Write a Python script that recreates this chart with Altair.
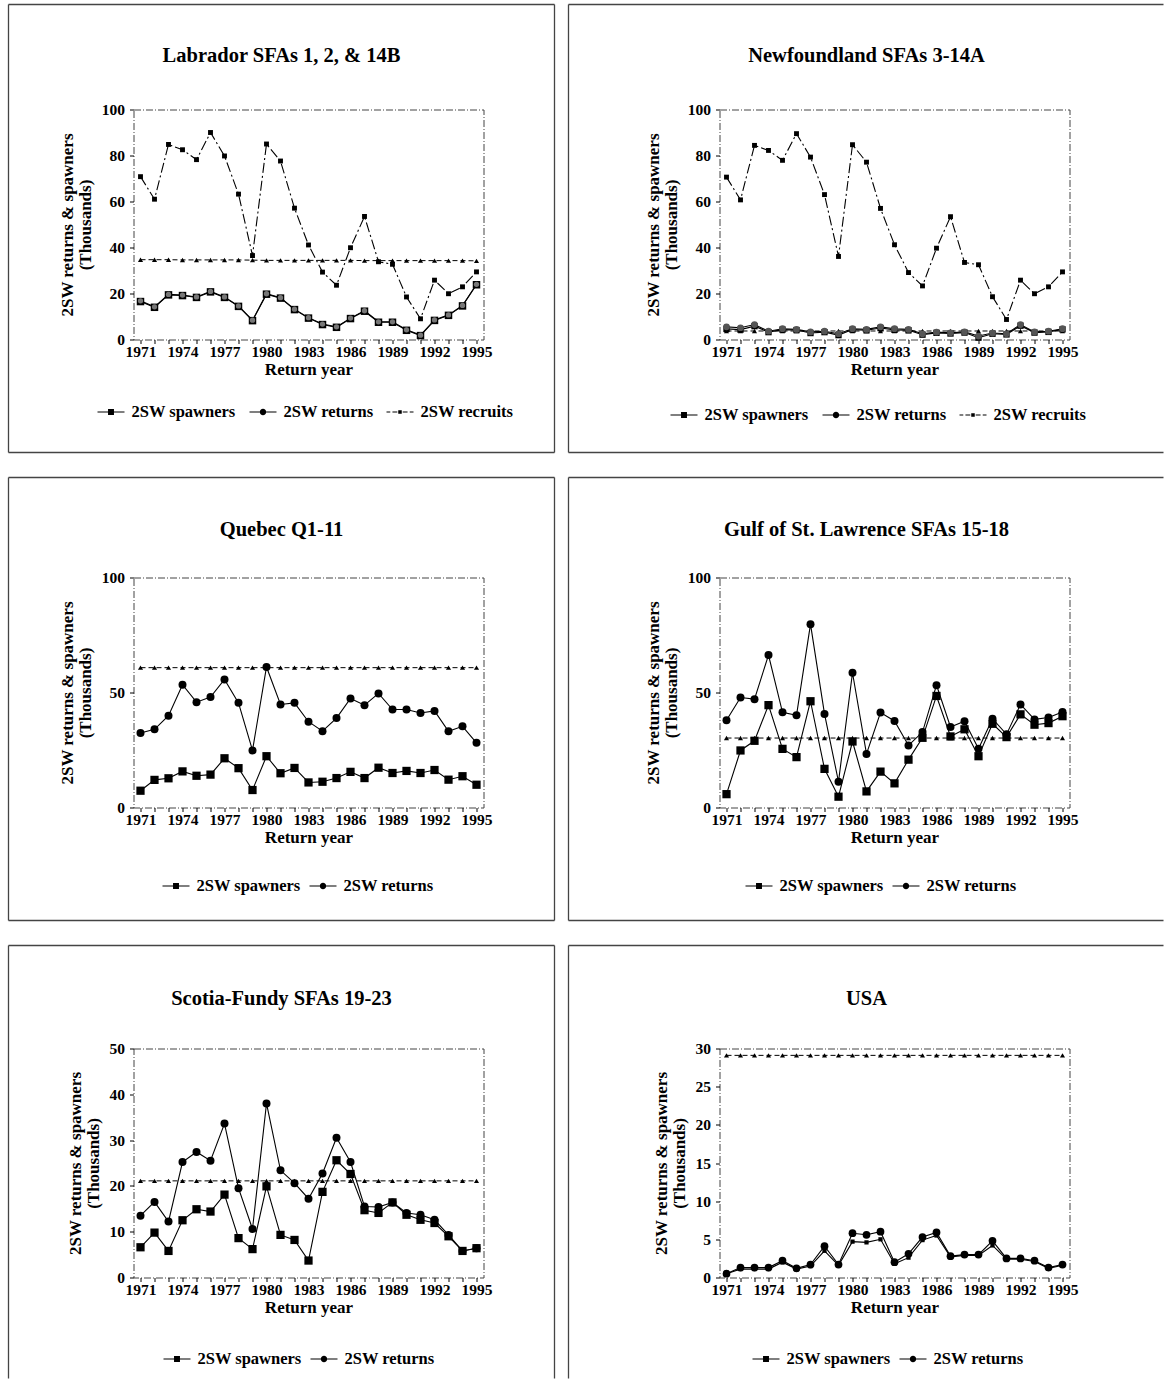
import altair as alt
import pandas as pd

FONT = "Liberation Serif"

YEARS = list(range(1971, 1996))
X_LABEL_YEARS = [1971, 1974, 1977, 1980, 1983, 1986, 1989, 1992, 1995]

SPAWN = "2SW spawners"
RET = "2SW returns"
RECR = "2SW recruits"
CONS = "conservation"

# ---------------- data ----------------
LAB_SPAWNERS = [16.5, 14.0, 19.4, 19.1, 18.3, 20.7, 18.3, 14.4, 8.2, 19.7, 18.0, 13.0, 9.3,
                6.5, 5.3, 9.1, 12.3, 7.5, 7.5, 4.0, 1.7, 8.3, 10.5, 14.6, 23.8]
LAB_RETURNS = [16.8, 14.2, 19.6, 19.3, 18.5, 20.9, 18.5, 14.6, 8.4, 19.9, 18.2, 13.2, 9.5,
               6.7, 5.5, 9.3, 12.5, 7.7, 7.7, 4.2, 1.9, 8.5, 10.7, 14.8, 24.0]
LAB_RECRUITS = [70.8, 61.0, 84.8, 82.5, 78.2, 90.0, 79.8, 63.2, 36.5, 85.0, 77.6, 57.1, 41.1,
                29.3, 23.6, 39.9, 53.5, 33.8, 32.7, 18.5, 9.0, 25.8, 19.9, 22.9, 29.4]
LAB_CONSERV = [34.7, 34.7, 34.7, 34.6, 34.6, 34.6, 34.6, 34.6, 34.5, 34.4, 34.4, 34.4, 34.4,
               34.4, 34.4, 34.4, 34.3, 34.3, 34.3, 34.3, 34.3, 34.3, 34.3, 34.3, 34.2]

NF_SPAWNERS = [4.6, 4.3, 5.8, 3.2, 4.3, 4.1, 2.8, 3.2, 1.9, 4.3, 4.0, 5.0, 4.2,
               4.0, 2.1, 2.9, 2.6, 3.0, 0.8, 2.5, 2.2, 6.0, 3.0, 3.3, 4.4]
NF_RETURNS = [5.5, 5.1, 6.5, 3.6, 4.7, 4.4, 3.3, 3.6, 2.5, 4.7, 4.4, 5.5, 4.7,
              4.4, 2.5, 3.2, 2.9, 3.3, 1.5, 2.8, 2.5, 6.5, 3.3, 3.6, 4.7]
NF_RECRUITS = [70.6, 60.7, 84.4, 82.2, 77.9, 89.5, 79.3, 63.0, 36.1, 84.7, 77.1, 57.0, 41.2,
               29.1, 23.3, 39.7, 53.4, 33.5, 32.5, 18.6, 8.7, 25.8, 19.9, 22.9, 29.4]
NF_CONSERV = [3.7, 3.7, 3.7, 3.7, 3.7, 3.7, 3.7, 3.7, 3.7, 3.7, 3.7, 3.7, 3.7,
              3.7, 3.7, 3.7, 3.7, 3.7, 3.7, 3.7, 3.7, 3.7, 3.7, 3.7, 3.7]

QC_SPAWNERS = [7.3, 12.0, 12.7, 15.7, 13.8, 14.3, 21.4, 17.1, 7.6, 22.3, 14.9, 17.2, 10.9,
               11.2, 12.8, 15.5, 12.8, 17.3, 15.0, 15.9, 15.0, 16.3, 12.1, 13.6, 9.9]
QC_RETURNS = [32.4, 34.0, 39.9, 53.4, 45.8, 48.0, 55.7, 45.5, 24.8, 61.1, 44.8, 45.5, 37.3,
              33.2, 38.9, 47.4, 44.5, 49.6, 42.6, 42.6, 41.1, 42.0, 33.1, 35.3, 28.1]
QC_CONSERV = [60.8, 60.8, 60.8, 60.8, 60.8, 60.8, 60.8, 60.8, 60.8, 60.8, 60.8, 60.8, 60.8,
              60.8, 60.8, 60.8, 60.8, 60.8, 60.8, 60.8, 60.8, 60.8, 60.8, 60.8, 60.8]

GULF_SPAWNERS = [5.8, 24.8, 29.0, 44.5, 25.5, 21.9, 46.2, 16.8, 4.7, 28.7, 7.0, 15.6, 10.5,
                 20.8, 30.3, 48.5, 30.9, 34.0, 22.3, 36.4, 30.6, 40.5, 36.0, 36.7, 39.7]
GULF_RETURNS = [37.9, 47.8, 47.1, 66.3, 41.4, 40.1, 79.7, 40.7, 11.2, 58.6, 23.3, 41.3, 37.6,
                27.0, 32.8, 53.2, 35.0, 37.5, 25.5, 38.6, 31.8, 44.8, 38.3, 39.1, 41.5]
GULF_CONSERV = [30.2, 30.2, 30.2, 30.2, 30.2, 30.2, 30.2, 30.2, 30.2, 30.2, 30.2, 30.2, 30.2,
                30.2, 30.2, 30.2, 30.2, 30.2, 30.2, 30.2, 30.2, 30.2, 30.2, 30.2, 30.2]

SF_SPAWNERS = [6.6, 9.8, 5.8, 12.5, 14.9, 14.4, 18.1, 8.6, 6.2, 19.9, 9.3, 8.2, 3.7,
               18.7, 25.6, 22.6, 14.7, 14.1, 16.4, 13.7, 12.6, 11.9, 9.0, 5.8, 6.4]
SF_RETURNS = [13.5, 16.5, 12.2, 25.2, 27.4, 25.5, 33.6, 19.5, 10.6, 38.0, 23.4, 20.6, 17.2,
              22.7, 30.5, 25.2, 15.5, 15.4, 16.4, 14.1, 13.7, 12.6, 9.3, 5.8, 6.4]
SF_CONSERV = [21.1, 21.1, 21.1, 21.1, 21.1, 21.1, 21.1, 21.1, 21.1, 21.1, 21.1, 21.1, 21.1,
              21.1, 21.1, 21.1, 21.1, 21.1, 21.1, 21.1, 21.1, 21.1, 21.1, 21.1, 21.1]

USA_SPAWNERS = [0.5, 1.1, 1.1, 1.1, 2.0, 1.1, 1.5, 3.5, 1.6, 4.7, 4.6, 5.0, 1.8,
                2.6, 4.9, 5.5, 2.7, 2.9, 2.9, 4.2, 2.4, 2.4, 2.1, 1.2, 1.6]
USA_RETURNS = [0.5, 1.3, 1.3, 1.3, 2.2, 1.2, 1.7, 4.1, 1.7, 5.8, 5.6, 6.0, 2.0,
               3.1, 5.3, 5.9, 2.8, 3.0, 3.0, 4.8, 2.5, 2.5, 2.2, 1.3, 1.7]
USA_CONSERV = [29.1, 29.1, 29.1, 29.1, 29.1, 29.1, 29.1, 29.1, 29.1, 29.1, 29.1, 29.1, 29.1,
               29.1, 29.1, 29.1, 29.1, 29.1, 29.1, 29.1, 29.1, 29.1, 29.1, 29.1, 29.1]

Y_TITLE = ["2SW returns & spawners", "(Thousands)"]


# ---------------- legend symbols (line + marker), unit box -1..1 ----------------
def seg(x1, x2, h=0.045):
    return f"M{x1},{-h}H{x2}V{h}H{x1}Z"


def sq(r):
    return f"M{-r},{-r}H{r}V{r}H{-r}Z"


def circ(r):
    return f"M{r},0A{r},{r} 0 1,1 {-r},0A{r},{r} 0 1,1 {r},0Z"


SYM = {
    SPAWN: seg(-1, -0.22) + sq(0.22) + seg(0.22, 1),
    RET: seg(-1, -0.24) + circ(0.24) + seg(0.24, 1),
    RECR: seg(-1, -0.72) + seg(-0.56, -0.2) + sq(0.13) + seg(0.2, 0.56) + seg(0.72, 1),
}


def long_df(d):
    rows = []
    for s, vals in d.items():
        for yr, v in zip(YEARS, vals):
            rows.append({"year": yr, "value": v, "series": s})
    return pd.DataFrame(rows)


def panel(p):
    ox, oy = p["origin"]
    W, H = p["size"]
    L, R, T, B = p["box"]
    df = long_df(p["data"])

    label_test = "indexof([" + ",".join(str(v) for v in X_LABEL_YEARS) + "], datum.value) >= 0"
    X = alt.X("year:Q",
              scale=alt.Scale(domain=[1970.5, 1995.5], nice=False, zero=False),
              axis=alt.Axis(values=YEARS, format="d", labelExpr=f"{label_test} ? datum.label : ''",
                            title="Return year", labelOverlap=False, labelFlush=False,
                            tickSize=4, labelPadding=1, titlePadding=1))
    Y = alt.Y("value:Q",
              scale=alt.Scale(domain=[0, p["ymax"]], nice=False),
              axis=alt.Axis(values=p["yticks"], title=Y_TITLE, tickSize=4, labelPadding=5,
                            titlePadding=7, titleLineHeight=18))

    base = alt.Chart(df)
    layers = []

    one = pd.DataFrame({"t": [p["title"]]})
    st = dict(color="#444", strokeWidth=1.3)
    # panel frame
    layers.append(alt.Chart(one).mark_rule(**st).encode(
        x=alt.value(L - ox), x2=alt.value(R - ox), y=alt.value(T - oy)))
    layers.append(alt.Chart(one).mark_rule(**st).encode(
        x=alt.value(L - ox), y=alt.value(T - oy), y2=alt.value(B - oy)))
    if p["draw_bottom"]:
        layers.append(alt.Chart(one).mark_rule(**st).encode(
            x=alt.value(L - ox), x2=alt.value(R - ox), y=alt.value(B - oy)))
    if p["draw_right"]:
        layers.append(alt.Chart(one).mark_rule(**st).encode(
            x=alt.value(R - ox), y=alt.value(T - oy), y2=alt.value(B - oy)))
    # title
    tx, ty = p["title_pos"]
    layers.append(alt.Chart(one).mark_text(font=FONT, fontSize=20.5, fontWeight="bold", color="black",
                                           align="center", baseline="middle").encode(
        text="t:N", x=alt.value(tx - ox), y=alt.value(ty - oy)))

    def filt(s):
        return base.transform_filter(alt.datum.series == s)

    # conservation requirement line
    layers.append(filt(CONS).mark_line(color="black", strokeWidth=1, strokeDash=[5, 3]).encode(x=X, y=Y))
    layers.append(filt(CONS).mark_point(shape="triangle-up", filled=True, color="black", size=26,
                                        opacity=1).encode(x=X, y=Y))
    if RECR in p["data"]:
        layers.append(filt(RECR).mark_line(color="black", strokeWidth=1.1, strokeDash=[10, 3, 2, 3]).encode(x=X, y=Y))
        layers.append(filt(RECR).mark_point(shape="square", filled=True, color="black", size=24,
                                            opacity=1).encode(x=X, y=Y))
    ms = p["marker"]
    layers.append(filt(SPAWN).mark_line(color="black", strokeWidth=1.1).encode(x=X, y=Y))
    layers.append(filt(SPAWN).mark_point(shape="square", filled=True, color="black", size=ms[0],
                                         opacity=1).encode(x=X, y=Y))
    layers.append(filt(RET).mark_line(color="black", strokeWidth=1.1).encode(x=X, y=Y))
    layers.append(filt(RET).mark_point(shape="circle", filled=True, color=p["ret_fill"], size=ms[1],
                                       opacity=1).encode(x=X, y=Y))

    # legend (invisible points, visible legend symbols)
    keys = p["legend"]
    lx, ly = p["legend_pos"]
    layers.append(base.transform_filter(alt.FieldOneOfPredicate(field="series", oneOf=keys))
                  .mark_point(filled=True, color="black", opacity=0)
                  .encode(x=X, y=Y,
                          shape=alt.Shape("series:N",
                                          scale=alt.Scale(domain=keys, range=[SYM[k] for k in keys]),
                                          legend=alt.Legend(orient="none", legendX=lx - ox, legendY=ly - oy,
                                                            direction="horizontal", columns=len(keys),
                                                            title=None, labelFont=FONT, labelFontSize=16.5,
                                                            labelFontWeight="bold", labelColor="black",
                                                            symbolSize=729, symbolStrokeWidth=0,
                                                            symbolOpacity=1, labelOffset=7,
                                                            columnPadding=p["legend_gap"], padding=0,
                                                            labelLimit=0))))
    return alt.layer(*layers).properties(width=W, height=H)


RIGHT_EDGE = 1163
BOTTOM_EDGE = 1380
C1, C2 = 133, 719

P = [
    dict(title="Labrador SFAs 1, 2, & 14B",
         data={CONS: LAB_CONSERV, RECR: LAB_RECRUITS, SPAWN: LAB_SPAWNERS, RET: LAB_RETURNS},
         legend=[SPAWN, RET, RECR], legend_gap=13, ymax=100, yticks=[0, 20, 40, 60, 80, 100],
         origin=(C1, 109), size=(350, 230), box=(8, 554, 4, 452), draw_right=True, draw_bottom=True,
         title_pos=(281, 55), legend_pos=(97, 398), marker=(56, 28), ret_fill="#777"),
    dict(title="Newfoundland SFAs 3-14A",
         data={CONS: NF_CONSERV, RECR: NF_RECRUITS, SPAWN: NF_SPAWNERS, RET: NF_RETURNS},
         legend=[SPAWN, RET, RECR], legend_gap=13, ymax=100, yticks=[0, 20, 40, 60, 80, 100],
         origin=(C2, 109), size=(350, 230), box=(568, RIGHT_EDGE, 4, 452), draw_right=False, draw_bottom=True,
         title_pos=(866, 55), legend_pos=(670, 401), marker=(40, 45), ret_fill="#555"),
    dict(title="Quebec Q1-11",
         data={CONS: QC_CONSERV, SPAWN: QC_SPAWNERS, RET: QC_RETURNS},
         legend=[SPAWN, RET], legend_gap=8, ymax=100, yticks=[0, 50, 100],
         origin=(C1, 578), size=(350, 230), box=(8, 554, 478, 921), draw_right=True, draw_bottom=True,
         title_pos=(281, 530), legend_pos=(162, 873), marker=(68, 64), ret_fill="black"),
    dict(title="Gulf of St. Lawrence SFAs 15-18",
         data={CONS: GULF_CONSERV, SPAWN: GULF_SPAWNERS, RET: GULF_RETURNS},
         legend=[SPAWN, RET], legend_gap=8, ymax=100, yticks=[0, 50, 100],
         origin=(C2, 578), size=(350, 230), box=(568, RIGHT_EDGE, 478, 921), draw_right=False, draw_bottom=True,
         title_pos=(866, 530), legend_pos=(745, 873), marker=(68, 64), ret_fill="black"),
    dict(title="Scotia-Fundy SFAs 19-23",
         data={CONS: SF_CONSERV, SPAWN: SF_SPAWNERS, RET: SF_RETURNS},
         legend=[SPAWN, RET], legend_gap=8, ymax=50, yticks=[0, 10, 20, 30, 40, 50],
         origin=(C1, 1050), size=(350, 229), box=(8, 554, 947, BOTTOM_EDGE), draw_right=True, draw_bottom=False,
         title_pos=(281, 1000), legend_pos=(163, 1347), marker=(68, 64), ret_fill="black"),
    dict(title="USA",
         data={CONS: USA_CONSERV, SPAWN: USA_SPAWNERS, RET: USA_RETURNS},
         legend=[SPAWN, RET], legend_gap=8, ymax=30, yticks=[0, 5, 10, 15, 20, 25, 30],
         origin=(C2, 1050), size=(350, 229), box=(568, RIGHT_EDGE, 947, BOTTOM_EDGE), draw_right=False, draw_bottom=False,
         title_pos=(866, 1000), legend_pos=(752, 1347), marker=(18, 60), ret_fill="black"),
]

charts = [panel(p) for p in P]


def row(a, b):
    return (alt.hconcat(a, b, spacing=10)
            .resolve_scale(shape="independent")
            .resolve_legend(shape="independent"))


chart = (alt.vconcat(row(charts[0], charts[1]), row(charts[2], charts[3]), row(charts[4], charts[5]),
                     spacing=21)
         .resolve_scale(shape="independent")
         .resolve_legend(shape="independent")
         .properties(padding={"left": 6.5, "top": 2.5, "right": 0, "bottom": 0}, background="white")
         .configure_view(stroke="#444", strokeDash=[7, 2, 1, 2], strokeWidth=1)
         .configure_axis(labelFont=FONT, labelFontSize=15.5, labelFontWeight="bold", labelColor="black",
                         titleFont=FONT, titleFontSize=17, titleFontWeight="bold", titleColor="black",
                         tickColor="black", domain=False, grid=False))

chart.save("out.html", embed_options={"renderer": "svg", "actions": False})
